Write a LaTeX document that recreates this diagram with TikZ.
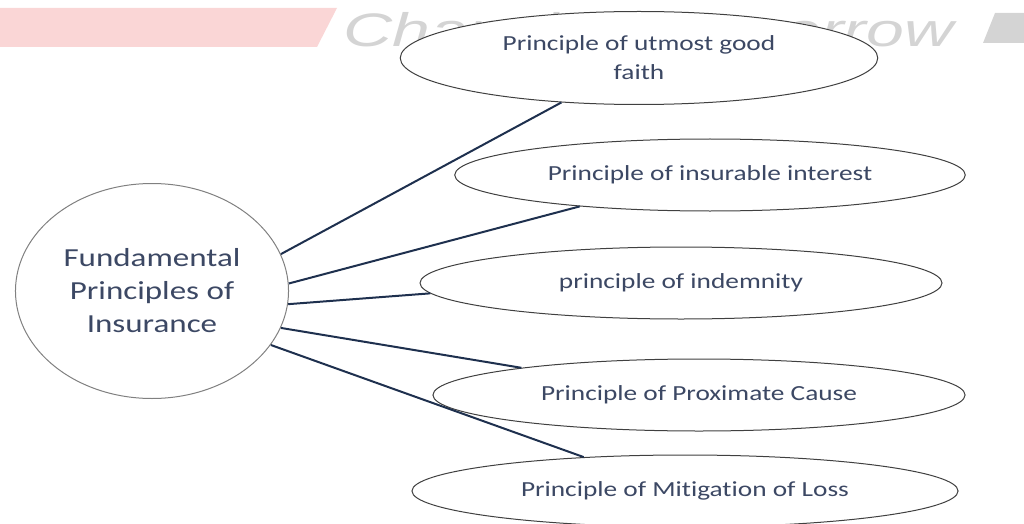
\documentclass[tikz,border=0pt]{standalone}
\usepackage{fontspec}
\setmainfont{Carlito}[Ligatures=NoCommon]
\newfontfamily\markfont{Liberation Sans}
\usetikzlibrary{shapes.geometric}
\definecolor{textblue}{RGB}{60,72,100}
\definecolor{linkblue}{RGB}{30,48,78}
\definecolor{barpink}{RGB}{250,214,214}
\definecolor{markgrey}{RGB}{212,212,212}
\tikzset{
	principle/.style={ellipse, draw=black!75, line width=1pt, fill=white, text=textblue, inner sep=0pt, minimum height=72pt, align=center, font=\fontsize{21.5}{29}\selectfont},
	link/.style={draw=linkblue, line width=2pt},
}

\begin{document}
\begin{tikzpicture}[x=0.787402pt, y=1pt, xscale=1.27, transform shape]
			%%%%% START %%%%%
			\useasboundingbox (0,0) rectangle (1024,523);
			
			% banner behind everything
			\fill[barpink] (0,515) -- (337,515) -- (317,476) -- (0,476) -- cycle;
			\fill[markgrey] (995,510) -- (1024,510) -- (1024,480) -- (983,480) -- cycle;
			\node[anchor=base west, inner sep=0pt, text=markgrey, font=\markfont\itshape\fontsize{47}{47}\selectfont] (mark) at (343,476) {\scalebox{1.14}[1]{Changing Tomorrow}};
			
			\node[circle, draw=black!50, line width=1pt, fill=white, minimum size=215pt, inner sep=0pt, align=center, text=textblue, font=\fontsize{26}{33}\selectfont] (fund) at (152,232) {Fundamental\\Principles of\\Insurance};
			
			\node[principle, minimum width=376pt, minimum height=93pt] (faith) at (639,465) {Principle of utmost good\\faith};
			\node[principle, minimum width=402pt] (interest) at (710,348) {Principle of insurable interest};
			\node[principle, minimum width=411pt] (indemnity) at (681,240) {principle of indemnity};
			\node[principle, minimum width=419pt] (cause) at (699,128) {Principle of Proximate Cause};
			\node[principle, minimum width=430pt] (loss) at (685,32) {Principle of Mitigation of Loss};
			
			\draw[link] (fund.20) -- (faith.216);
			\draw[link] (fund.4) -- (interest.197);
			\draw[link] (fund.-7) -- (indemnity.183);
			\draw[link] (fund.-20) -- (cause.169);
			\draw[link] (fund.-30) -- (loss.157);
			
			%%%%% END %%%%%
\end{tikzpicture}
\end{document}
